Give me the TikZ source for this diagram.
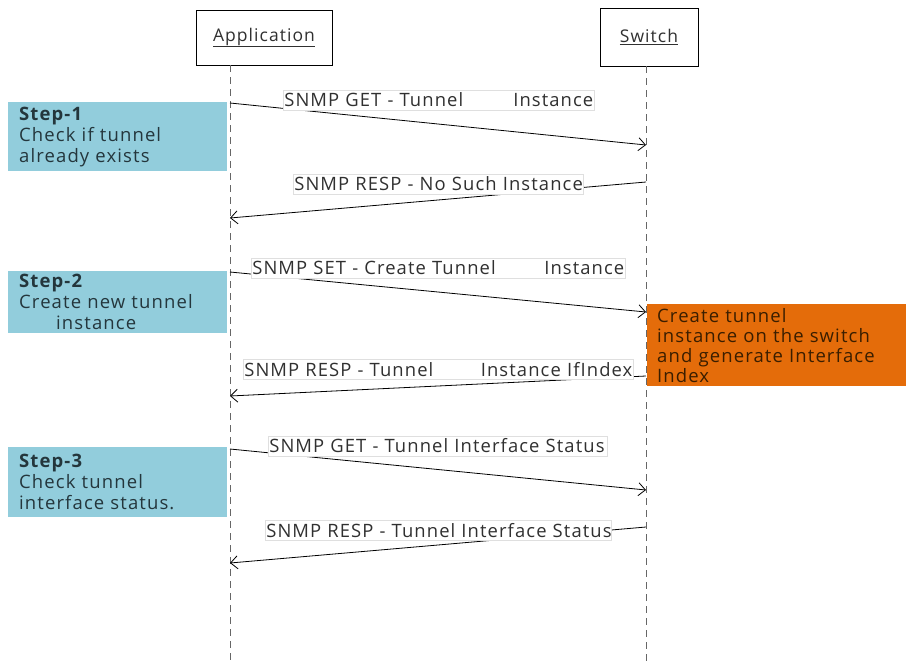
\documentclass[tikz,border=0pt]{standalone}
\usepackage{fontspec}
\setmainfont{Open Sans}[LetterSpace=6]
\usetikzlibrary{arrows.meta}
\definecolor{stepblue}{HTML}{92CDDC}
\definecolor{orangebox}{HTML}{E46C0A}
\definecolor{txt}{HTML}{303030}
\definecolor{steptxt}{HTML}{24363C}
\definecolor{orangetxt}{HTML}{3A1E00}
\begin{document}
\begin{tikzpicture}[x=1pt,y=-1pt,
  actor/.style={draw=black, line width=0.8pt, fill=white, inner sep=0pt, font=\fontsize{17.5}{22}\selectfont, text=txt},
  lifeline/.style={draw=gray!80!black, line width=1pt, dash pattern=on 7pt off 5pt},
  msg/.style={draw=black, line width=0.8pt, -{Straight Barb[length=7pt,width=13pt,line width=0.8pt]}},
  msglabel/.style={draw=gray!25, line width=0.6pt, fill=white, anchor=west, inner xsep=1pt, inner ysep=0pt, minimum height=20pt, align=left, font=\fontsize{18.4}{20}\selectfont, text=txt},
  stepbox/.style={fill=stepblue, anchor=north west, minimum width=219pt, inner xsep=11pt, inner ysep=0pt, text width=197pt, align=left, font=\fontsize{18.5}{21}\selectfont, text=steptxt},
  notebox/.style={fill=orangebox, anchor=north west, minimum width=259pt, minimum height=82pt, inner xsep=10pt, inner ysep=0pt, text width=239pt, align=left, font=\fontsize{18.5}{20}\selectfont, text=orangetxt}
]
\useasboundingbox (0,0) rectangle (906,662);

% actors
\node[actor, minimum width=136pt, minimum height=55pt] (app) at (264,37.5) {\underline{Application}};
\node[actor, minimum width=98pt, minimum height=58pt] (sw) at (649,37) {\underline{Switch}};

% lifelines
\coordinate (appTop) at (230,65);
\coordinate (appBot) at (230,662);
\coordinate (swTop) at (646,66);
\coordinate (swBot) at (646,662);
\draw[lifeline] (appTop) -- (appBot);
\draw[lifeline] (swTop) -- (swBot);

% step boxes
\node[stepbox, minimum height=69pt] (s1) at (8,102) {\textbf{Step-1}\\Check if tunnel\\already exists};
\node[stepbox, minimum height=62pt] (s2) at (8,271) {\textbf{Step-2}\\Create new tunnel\\\hspace*{37pt}instance};
\node[stepbox, minimum height=70pt] (s3) at (8,447) {\textbf{Step-3}\\Check tunnel\\interface status.};

% note box
\node[notebox] (note) at (647,304) {Create tunnel\\instance on the switch\\and generate Interface\\Index};

% message end points
\coordinate (m1a) at (230,103);
\coordinate (m1b) at (646,145);
\coordinate (m2a) at (646,182);
\coordinate (m2b) at (230,218);
\coordinate (m3a) at (230,272);
\coordinate (m3b) at (646,312);
\coordinate (m4a) at (646,376);
\coordinate (m4b) at (230,396);
\coordinate (m5a) at (230,449);
\coordinate (m5b) at (646,490);
\coordinate (m6a) at (646,527);
\coordinate (m6b) at (230,563);

\draw[msg] (m1a) -- (m1b);
\draw[msg] (m2a) -- (m2b);
\draw[msg] (m3a) -- (m3b);
\draw[msg] (m4a) -- (m4b);
\draw[msg] (m5a) -- (m5b);
\draw[msg] (m6a) -- (m6b);

% message labels
\node[msglabel, text width=309pt] (l1) at (283,100) {SNMP GET - Tunnel\hfill Instance};
\node[msglabel, text width=288pt] (l2) at (293,184) {SNMP RESP - No Such Instance};
\node[msglabel, text width=372pt] (l3) at (251,268) {SNMP SET - Create Tunnel\hfill Instance};
\node[msglabel, text width=388pt] (l4) at (243,369.5) {SNMP RESP - Tunnel\hfill Instance IfIndex};
\node[msglabel, text width=337pt] (l5) at (268,446) {SNMP GET - Tunnel Interface Status};
\node[msglabel, text width=344pt] (l6) at (265,530.5) {SNMP RESP - Tunnel Interface Status};
\end{tikzpicture}
\end{document}
